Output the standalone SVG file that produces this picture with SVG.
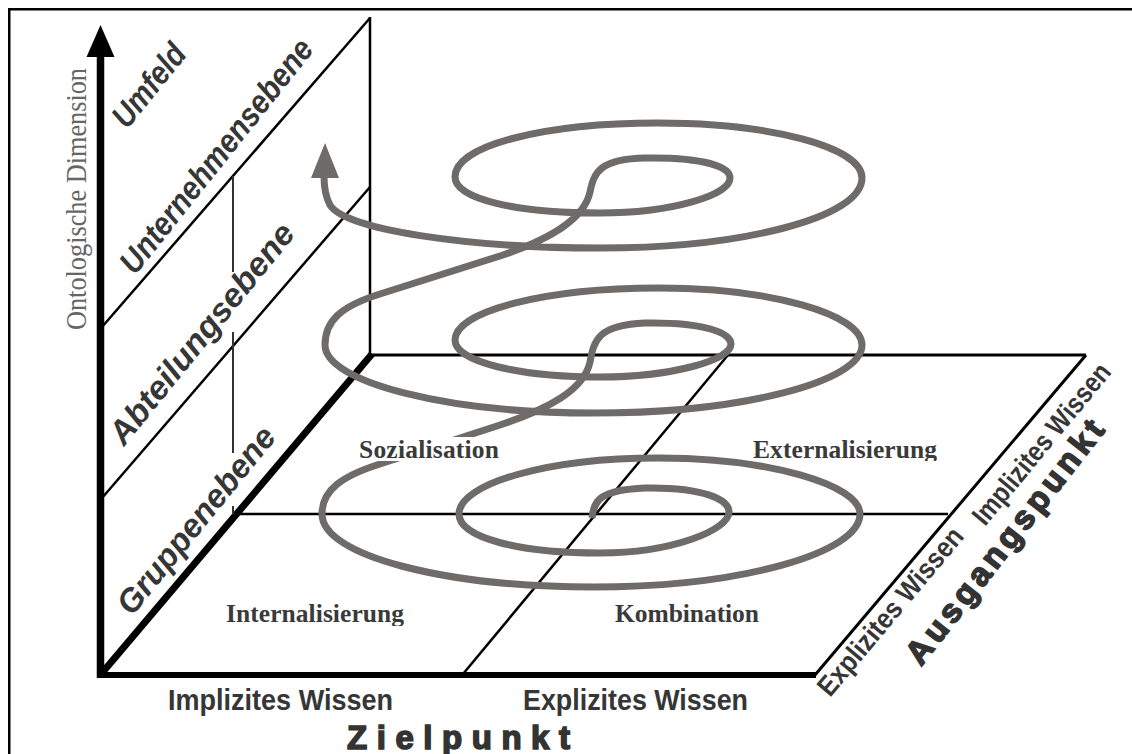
<svg xmlns="http://www.w3.org/2000/svg" width="1132" height="754" viewBox="0 0 1132 754">
<style>
.ln{stroke:#000;fill:none}
.thin{stroke-width:2.5}
.wall{font-family:"Liberation Sans",Arial,sans-serif;font-weight:bold;font-style:italic;font-size:33px;fill:#363636}
.side{font-family:"Liberation Sans",Arial,sans-serif;font-weight:bold;font-size:28px;fill:#363636}
.axis{font-family:"Liberation Sans",Arial,sans-serif;font-weight:bold;font-size:30px;fill:#363636}
.big{font-family:"Liberation Sans",Arial,sans-serif;font-weight:900;font-size:33px;fill:#333;stroke:#333;stroke-width:1.6}
.quad{font-family:"Liberation Serif","Times New Roman",serif;font-weight:bold;font-size:25.5px;fill:#3a3a3a}
.onto{font-family:"Liberation Serif","Times New Roman",serif;font-size:29px;fill:#666}
.spiral{fill:none;stroke:#6e6b69;stroke-width:7}
</style>
<defs>
<clipPath id="cutExt"><rect x="740" y="425" width="220" height="36"/></clipPath>
<clipPath id="cutInt"><rect x="215" y="590" width="200" height="36"/></clipPath>
</defs>
<rect x="0" y="0" width="1132" height="754" fill="#fff"/>
<rect x="9.25" y="9.25" width="1200" height="900" fill="none" stroke="#000" stroke-width="2.5"/>

<g id="structure">
  <line class="ln thin" x1="370" y1="17" x2="370" y2="356"/>
  <line class="ln thin" x1="370" y1="18" x2="102" y2="327"/>
  <line class="ln thin" x1="370" y1="187" x2="102" y2="498"/>
  <line class="ln" stroke-width="3" x1="369" y1="355" x2="1086" y2="355"/>
  <line class="ln" stroke-width="3" x1="1086" y1="355" x2="815" y2="675"/>
  <line class="ln" stroke-width="2.5" x1="238" y1="514" x2="948" y2="514"/>
  <line class="ln" stroke-width="2.5" x1="728" y1="355" x2="463" y2="674"/>
  <line class="ln" stroke-width="7" x1="372" y1="354" x2="102" y2="673"/>
  <line class="ln" stroke-width="6" x1="97" y1="675" x2="816" y2="675"/>
  <line class="ln" stroke-width="7.5" x1="100.5" y1="56" x2="100.5" y2="678"/>
  <polygon points="100.5,25 86.5,57 114.5,57" fill="#000"/>
  <g stroke="#333" stroke-width="2">
    <line x1="233" y1="176" x2="233" y2="272"/>
    <line x1="233" y1="332" x2="233" y2="453"/>
    <line x1="233" y1="506" x2="233" y2="514"/>
  </g>
</g>

<g id="connectors">
  <path class="spiral" d="M 592,518 C 594,500 600,490 645,488 C 705,487 729,500 729,512 C 729,530 672,553 600,553 C 520,553 459,538 459,514 C 459,484 546,458 658,458 C 770,458 860,485 860,514 C 860,553 741,587 593,587 C 446,587 322,556 322,514 C 322,490 342,476 380,464 L 500,425 C 548,409 584,390 590,362 C 594,340 598,325 645,323 C 705,322 731,333 731,344 C 731,360 672,377 600,377 C 520,377 455,362 455,340 C 455,311 546,288 658,288 C 770,288 862,314 862,345 C 862,382 741,413 593,413 C 446,413 325,382 325,345 C 325,320 342,306 380,294 L 500,256 C 548,240 584,220 590,192 C 594,172 600,159 645,158 C 705,157 730,167 730,178 C 730,195 672,213 600,213 C 520,213 455,200 455,177 C 455,145 546,123 658,123 C 770,123 862,147 862,178 C 862,218 741,248 600,248 C 470,248 345,230 330,205 C 325,196 324,188 324,176"/>
  <polygon points="325,143 311,178 339,178" fill="#6e6b69"/>
</g>

<g id="label-umfeld"><text class="wall" transform="translate(127,130) rotate(-51)" textLength="97" lengthAdjust="spacingAndGlyphs">Umfeld</text></g>
<g id="label-unternehmen"><text class="wall" transform="translate(135,276) rotate(-51.5)" textLength="289" lengthAdjust="spacingAndGlyphs">Unternehmensebene</text></g>
<g id="label-abteilung"><text class="wall" transform="translate(124,447) rotate(-51)" textLength="274" lengthAdjust="spacingAndGlyphs">Abteilungsebene</text></g>
<g id="label-gruppe"><text class="wall" transform="translate(132,617) rotate(-51)" textLength="231" lengthAdjust="spacingAndGlyphs">Gruppenebene</text></g>

<g id="label-ontologisch"><text class="onto" transform="translate(86,330) rotate(-90)" textLength="262" lengthAdjust="spacingAndGlyphs">Ontologische Dimension</text></g>

<g id="quad-sozialisation">
  <rect x="353" y="437" width="150" height="24" fill="#fff"/>
  <text class="quad" x="359" y="458" textLength="140">Sozialisation</text>
</g>
<g id="quad-externalisierung"><text class="quad" x="753" y="458" textLength="184" clip-path="url(#cutExt)">Externalisierung</text></g>
<g id="quad-internalisierung"><text class="quad" x="226" y="622" textLength="178" clip-path="url(#cutInt)">Internalisierung</text></g>
<g id="quad-kombination"><text class="quad" x="615" y="622" textLength="144">Kombination</text></g>

<g id="axis-implizit"><text class="axis" x="168" y="710" textLength="225" lengthAdjust="spacingAndGlyphs">Implizites Wissen</text></g>
<g id="axis-explizit"><text class="axis" x="523" y="710" textLength="225" lengthAdjust="spacingAndGlyphs">Explizites Wissen</text></g>
<g id="axis-zielpunkt"><text class="big" x="347" y="749" textLength="223">Zielpunkt</text></g>

<g id="side-explizit"><text class="side" transform="translate(830,698) rotate(-50)" textLength="210" lengthAdjust="spacingAndGlyphs">Explizites Wissen</text></g>
<g id="side-implizit"><text class="side" transform="translate(985,527) rotate(-50.5)" textLength="200" lengthAdjust="spacingAndGlyphs">Implizites Wissen</text></g>
<g id="side-ausgangspunkt"><text class="big" transform="translate(921,667) rotate(-52)" textLength="300">Ausgangspunkt</text></g>
</svg>
